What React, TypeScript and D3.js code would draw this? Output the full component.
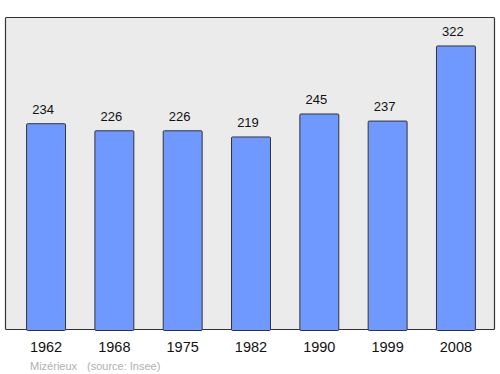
import React from "react";
import * as d3 from "d3";

const years = ["1962", "1968", "1975", "1982", "1990", "1999", "2008"];
const population = [234, 226, 226, 219, 245, 237, 322];
const commune = "Mizérieux";
const source = "(source: Insee)";

export default function App() {
  const W = 500, H = 374;
  const frame = { x: 5.5, y: 17.5, w: 489, h: 312 };
  const x = d3.scaleBand<string>().domain(years).range([11.4, 489.6]).paddingInner(0.43).paddingOuter(0.215);
  const maxV = d3.max(population)! * 1.1;
  const y = d3.scaleLinear().domain([0, maxV]).range([330, 17]);
  const font = "'Liberation Sans', Arial, sans-serif";
  return (
    <svg width={W} height={H} style={{ position: "absolute", left: 0, top: 0 }}>
      <rect x={frame.x} y={frame.y} width={frame.w} height={frame.h} fill="#ebebeb" stroke="#333" strokeWidth={1.2} rx={1} />
      {years.map((yr, i) => {
        const v = population[i];
        const bx = x(yr)!;
        return (
          <g key={yr}>
            <rect x={bx + 0.5} y={y(v) + 0.5} width={x.bandwidth()} height={330 - y(v)} fill="#7099ff" stroke="#333" strokeWidth={1} rx={1} />
            <text x={bx + x.bandwidth() / 2 - 2.5} y={y(v) - 9.5} textAnchor="middle" fontFamily={font} fontSize={13} fill="#111">{v}</text>
            <text x={bx + x.bandwidth() / 2 + 0.5} y={352} textAnchor="middle" fontFamily={font} fontSize={14.5} fill="#111">{yr}</text>
          </g>
        );
      })}
      <text x={30} y={370} fontFamily={font} fontSize={11} fill="#b0b0b0">{commune}</text>
      <text x={87} y={370} fontFamily={font} fontSize={11} fill="#b0b0b0">{source}</text>
    </svg>
  );
}
